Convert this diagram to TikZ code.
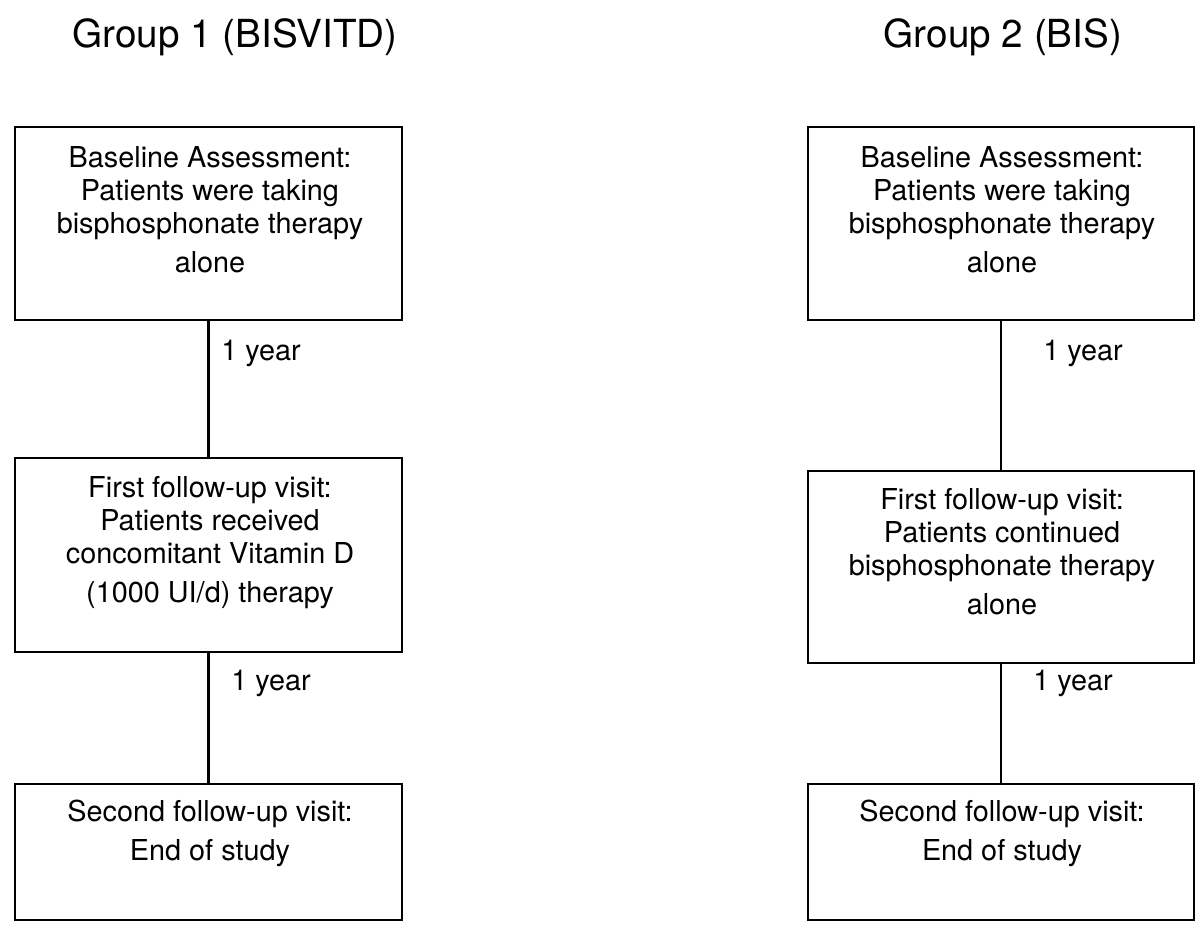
\documentclass[tikz,border=0pt]{standalone}
\usepackage{fontspec}
\setmainfont{TeX Gyre Heros}
\usetikzlibrary{positioning}
\tikzset{
	stagebox/.style = {draw, line width = 1.2pt, shape = rectangle, minimum width = 7.74cm, inner sep = 0pt},
	stagetext/.style = {anchor = north, align = center, inner sep = 0pt, font = \fontsize{16.4}{18.8}\selectfont},
	grouptitle/.style = {anchor = base, inner sep = 0pt, font = \fontsize{22}{24}\selectfont},
	gap/.style = {anchor = base west, inner sep = 0pt, font = \fontsize{16.4}{18.8}\selectfont},
	link/.style = {line width = 1.2pt}
}
\begin{document}
\begin{tikzpicture}[x = 0.02cm, y = -0.02cm]
		\useasboundingbox (0,0) rectangle (1195,934);
		% titles
		\node[grouptitle] (g1) at (235,47) {Group 1 (BISVITD)};
		\node[grouptitle] (g2) at (1003,47) {Group 2 (BIS)};
		% group 1
		\node[stagebox, minimum height = 3.86cm] (b1a) at (208.5,223.5) {};
		\node[stagebox, minimum height = 3.88cm] (b2a) at (208.5,555) {};
		\node[stagebox, minimum height = 2.72cm] (b3a) at (208.5,852) {};
		\node[stagetext] (t1a) at (210,146) {Baseline Assessment:\\ Patients were taking\\ bisphosphonate therapy\\[3.4pt] alone};
		\node[stagetext] (t2a) at (210,476) {First follow-up visit:\\ Patients received\\ concomitant Vitamin D\\[3.4pt] (1000 UI/d) therapy};
		\node[stagetext] (t3a) at (210,800) {Second follow-up visit:\\[3.4pt] End of study};
		% group 2
		\node[stagebox, minimum height = 3.86cm] (b1b) at (1001,223.5) {};
		\node[stagebox, minimum height = 3.84cm] (b2b) at (1001,567) {};
		\node[stagebox, minimum height = 2.72cm] (b3b) at (1001,852) {};
		\node[stagetext] (t1b) at (1002,146) {Baseline Assessment:\\ Patients were taking\\ bisphosphonate therapy\\[3.4pt] alone};
		\node[stagetext] (t2b) at (1002,488) {First follow-up visit:\\ Patients continued\\ bisphosphonate therapy\\[3.4pt] alone};
		\node[stagetext] (t3b) at (1002,800) {Second follow-up visit:\\[3.4pt] End of study};
		% connectors
		\draw[link] (b1a) -- (b2a);
		\draw[link] (b2a) -- (b3a);
		\draw[link] (b1b) -- (b2b);
		\draw[link] (b2b) -- (b3b);
		\node[gap] (y1a) at (221,360) {1 year};
		\node[gap] (y2a) at (231,690) {1 year};
		\node[gap] (y1b) at (1043,360) {1 year};
		\node[gap] (y2b) at (1033,690) {1 year};
	\end{tikzpicture}
\end{document}
